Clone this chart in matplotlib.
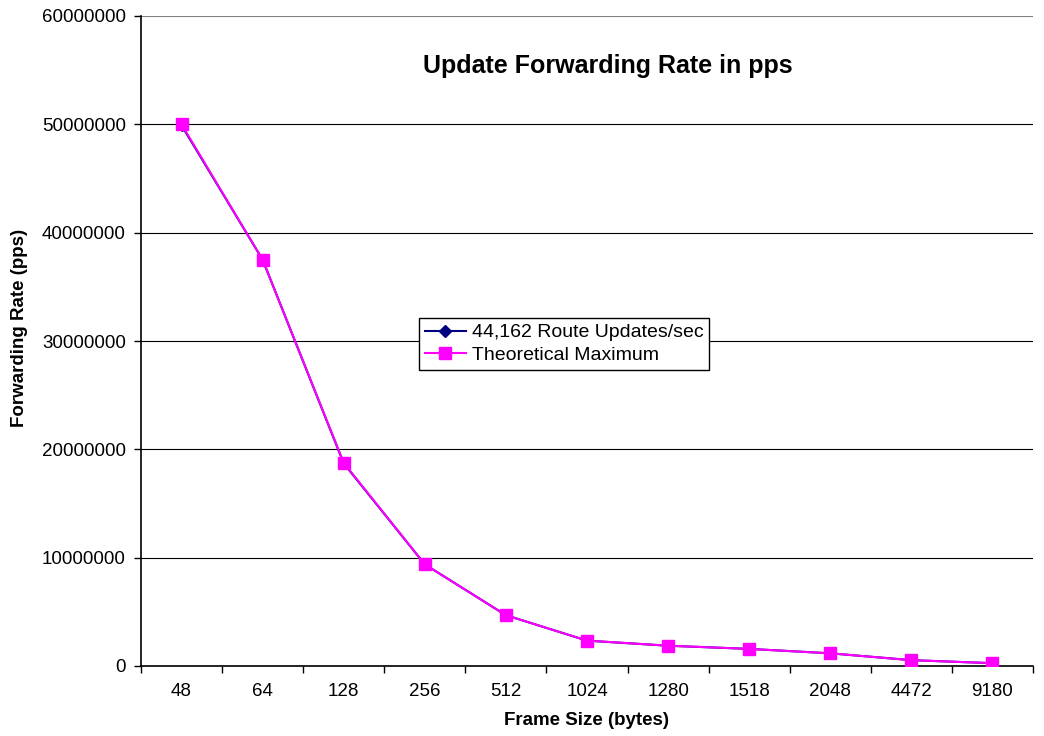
import matplotlib.pyplot as plt
import numpy as np

plt.rcParams['font.family'] = ['Liberation Sans', 'DejaVu Sans']

# --- DATA ---
frame_sizes = ['48', '64', '128', '256', '512', '1024', '1280', '1518', '2048', '4472', '9180']
route_updates = [49900000, 37500000, 18700000, 9380000, 4690000, 2340000,
                 1870000, 1580000, 1170000, 540000, 260000]
theoretical_max = [50000000, 37500000, 18750000, 9375000, 4690000, 2345000,
                   1875000, 1581000, 1172000, 537000, 261000]
y_ticks = list(range(0, 60000001, 10000000))

# --- FIGURE ---
fig = plt.figure(figsize=(10.44, 7.36), dpi=100)
ax = fig.add_axes([141 / 1044, 70 / 736, 892 / 1044, 650 / 736])

x = np.arange(len(frame_sizes))

ax.plot(x, route_updates, color='#000080', marker='D', markersize=6,
        linewidth=1.5, label='44,162 Route Updates/sec', zorder=3)
ax.plot(x, theoretical_max, color='#FF00FF', marker='s', markersize=8.5,
        linewidth=1.5, label='Theoretical Maximum', zorder=4)

# axes limits and ticks (category axis, ticks between categories)
ax.set_xlim(-0.5, len(frame_sizes) - 0.5)
ax.set_ylim(0, 60000000)
ax.set_yticks(y_ticks)
ax.set_yticklabels([str(v) for v in y_ticks], fontsize=13.5)

ax.set_xticks(np.arange(-0.5, len(frame_sizes), 1.0))
ax.set_xticklabels([])
ax.set_xticks(x, minor=True)
ax.set_xticklabels(frame_sizes, minor=True, fontsize=13.5)
ax.tick_params(axis='x', which='minor', length=0, pad=12)
ax.tick_params(axis='x', which='major', length=5, direction='out', width=1)
ax.tick_params(axis='y', length=5, direction='out', width=1, pad=6)

ax.yaxis.grid(True, color='black', linewidth=0.8)
ax.set_axisbelow(True)
# top gridline is lighter (plot area border)
ax.get_ygridlines()[-1].set_color('#808080')

for side in ['top', 'right']:
    ax.spines[side].set_visible(False)
ax.spines['left'].set_linewidth(1.2)
ax.spines['bottom'].set_linewidth(1.2)

ax.set_xlabel('Frame Size (bytes)', fontsize=13.5, fontweight='bold')
ax.set_ylabel('Forwarding Rate (pps)', fontsize=13.5, fontweight='bold')
ax.xaxis.set_label_coords(0.5, -0.071)
ax.yaxis.set_label_coords(-0.127, 0.52)

ax.text(0.5235, 0.923, 'Update Forwarding Rate in pps', transform=ax.transAxes,
        ha='center', va='center', fontsize=18, fontweight='bold')

leg = ax.legend(loc='upper left', bbox_to_anchor=(278 / 892, 348 / 650), fontsize=14,
                frameon=True, fancybox=False, edgecolor='black', framealpha=1,
                borderpad=0.3, handlelength=2.1, handletextpad=0.3,
                labelspacing=0.25, borderaxespad=0)
leg.get_frame().set_linewidth(1.0)

fig.savefig('out.png', dpi=100)
